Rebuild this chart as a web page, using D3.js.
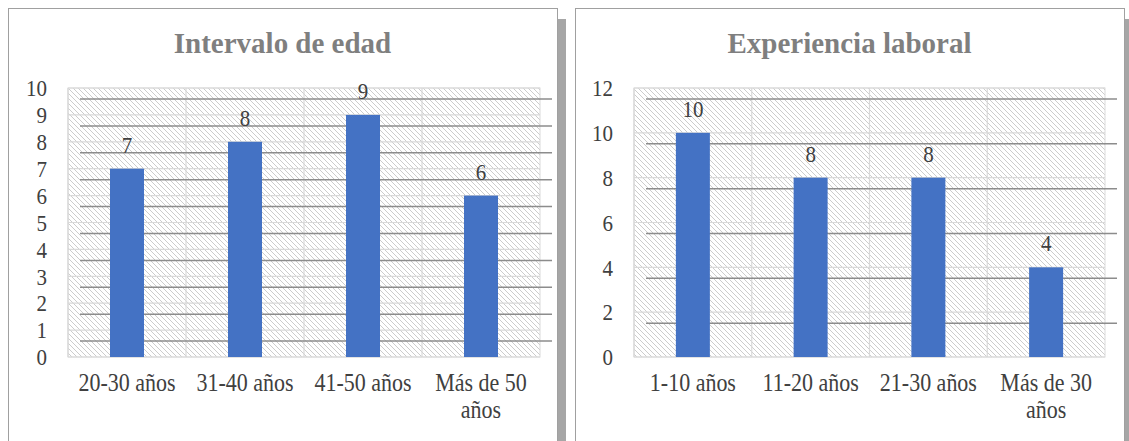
<!DOCTYPE html>
<html>
<head>
<meta charset="utf-8">
<script src="https://cdn.jsdelivr.net/npm/d3@7"></script>
<style>
  body { margin: 0; background: #fff; }
</style>
</head>
<body>
<div id="chart"></div>
<script>
// data
let edadCategories = ["20-30 años", "31-40 años", "41-50 años", "Más de 50 años"]
let edadValues = [7, 8, 9, 6]
let edadTicks = [0, 1, 2, 3, 4, 5, 6, 7, 8, 9, 10]

let expCategories = ["1-10 años", "11-20 años", "21-30 años", "Más de 30 años"]
let expValues = [10, 8, 8, 4]
let expTicks = [0, 2, 4, 6, 8, 10, 12]

let svgWidth = 1129
let svgHeight = 441
let stretch = 1.12   // text in the picture is a bit taller than wide
let serif = "'Liberation Serif'"

let svg = d3.select('#chart')
    .append('svg')
    .attr('width', svgWidth)
    .attr('height', svgHeight)

// hatch pattern for the plot area
let defs = svg.append('defs')
defs.append('pattern')
    .attr('id', 'hatch')
    .attr('patternUnits', 'userSpaceOnUse')
    .attr('width', 5)
    .attr('height', 5)
    .append('path')
    .attr('d', 'M-1,-1 L6,6 M4,-1 L6,1 M-1,4 L1,6')
    .attr('stroke', '#c6c6c6')
    .attr('stroke-width', 0.9)

function drawPanel(opt) {
    let g = svg.append('g')

    // drop shadow + frame
    g.append('rect')
        .attr('x', opt.right)
        .attr('y', 19)
        .attr('width', opt.shadow)
        .attr('height', 450)
        .attr('fill', '#a6a6a6')
    g.append('rect')
        .attr('x', opt.left + 0.5)
        .attr('y', 8.5)
        .attr('width', opt.right - opt.left)
        .attr('height', 450)
        .attr('fill', '#fff')
        .attr('stroke', '#a0a0a0')
        .attr('stroke-width', 1)

    // title
    g.append('text')
        .attr('transform', `translate(${(opt.left + opt.right) / 2},53) scale(1,1.05)`)
        .attr('text-anchor', 'middle')
        .attr('font-family', serif)
        .attr('font-size', 29)
        .attr('font-weight', 'bold')
        .attr('fill', '#7f7f7f')
        .text(opt.title)

    let x = d3.scaleBand()
        .domain(opt.categories)
        .range([opt.plotLeft, opt.plotRight])
        .paddingInner(0)
        .paddingOuter(0)
    let y = d3.scaleLinear()
        .domain([0, opt.max])
        .range([357, 88])

    // plot area
    g.append('rect')
        .attr('x', opt.plotLeft)
        .attr('y', y(opt.max))
        .attr('width', opt.plotRight - opt.plotLeft)
        .attr('height', y(0) - y(opt.max))
        .attr('fill', 'url(#hatch)')
        .attr('stroke', '#d9d9d9')

    // light gridlines
    g.selectAll('.light')
        .data(opt.ticks)
        .enter()
        .append('line')
        .attr('x1', opt.plotLeft)
        .attr('x2', opt.plotRight)
        .attr('y1', d => y(d))
        .attr('y2', d => y(d))
        .attr('stroke', '#d9d9d9')
        .attr('stroke-width', 1.2)
    // category dividers
    g.selectAll('.vline')
        .data(opt.categories)
        .enter()
        .append('line')
        .attr('x1', d => x(d))
        .attr('x2', d => x(d))
        .attr('y1', y(opt.max))
        .attr('y2', y(0))
        .attr('stroke', '#d9d9d9')
        .attr('stroke-width', 1.2)

    // dark offset gridlines
    g.selectAll('.dark')
        .data(opt.ticks.filter(d => d > 0))
        .enter()
        .append('line')
        .attr('x1', opt.plotLeft + 12)
        .attr('x2', opt.plotRight + 12)
        .attr('y1', d => y(d) + 11)
        .attr('y2', d => y(d) + 11)
        .attr('stroke', '#8c8c8c')
        .attr('stroke-width', 1.5)

    // bars
    let barW = 34
    g.selectAll('.bar')
        .data(opt.values)
        .enter()
        .append('rect')
        .attr('x', (d, i) => x(opt.categories[i]) + x.bandwidth() / 2 - barW / 2)
        .attr('y', d => y(d))
        .attr('width', barW)
        .attr('height', d => y(0) - y(d))
        .attr('fill', '#4472c4')

    // data labels
    g.selectAll('.lbl')
        .data(opt.values)
        .enter()
        .append('text')
        .attr('transform', (d, i) => `translate(${x(opt.categories[i]) + x.bandwidth() / 2},${y(d) - 16}) scale(1,${stretch})`)
        .attr('text-anchor', 'middle')
        .attr('font-family', serif)
        .attr('font-size', 21)
        .attr('fill', '#404040')
        .text(d => d)

    // y tick labels
    g.selectAll('.ytick')
        .data(opt.ticks)
        .enter()
        .append('text')
        .attr('transform', d => `translate(${opt.plotLeft - 21},${y(d)}) scale(1,${stretch})`)
        .attr('dy', '0.35em')
        .attr('text-anchor', 'end')
        .attr('font-family', serif)
        .attr('font-size', 21)
        .attr('fill', '#404040')
        .text(d => d)

    // x category labels, wrapped to the band width
    opt.categories.forEach(cat => {
        let t = g.append('text')
            .attr('transform', `translate(${x(cat) + x.bandwidth() / 2},391) scale(1,${stretch})`)
            .attr('text-anchor', 'middle')
            .attr('font-family', serif)
            .attr('font-size', 22)
            .attr('fill', '#404040')
        let words = cat.split(' ')
        let lines = []
        let line = []
        let probe = t.append('tspan')
        words.forEach(w => {
            line.push(w)
            probe.text(line.join(' '))
            if (probe.node().getComputedTextLength() > x.bandwidth() - 8 && line.length > 1) {
                line.pop()
                lines.push(line.join(' '))
                line = [w]
            }
        })
        lines.push(line.join(' '))
        probe.remove()
        lines.forEach((l, i) => {
            t.append('tspan')
                .attr('x', 0)
                .attr('y', i * 24)
                .text(l)
        })
    })
}

drawPanel({
    left: 8, right: 557, shadow: 9,
    plotLeft: 68, plotRight: 540,
    title: 'Intervalo de edad',
    categories: edadCategories, values: edadValues, ticks: edadTicks, max: 10
})

drawPanel({
    left: 575, right: 1124, shadow: 6,
    plotLeft: 634, plotRight: 1105,
    title: 'Experiencia laboral',
    categories: expCategories, values: expValues, ticks: expTicks, max: 12
})
</script>
</body>
</html>
